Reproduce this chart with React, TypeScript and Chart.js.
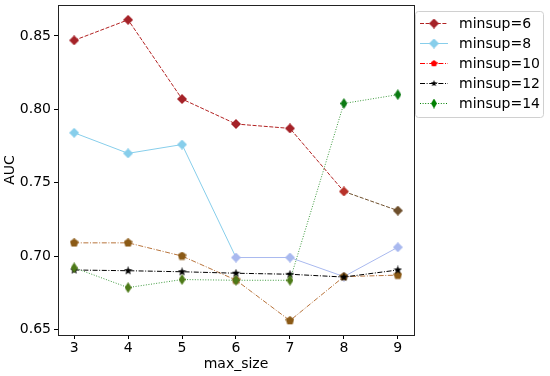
import { useEffect, useRef } from "react";
import { Chart, registerables } from "chart.js";
Chart.register(...registerables);

const xValues = [3, 4, 5, 6, 7, 8, 9];
const yTicks = [0.65, 0.7, 0.75, 0.8, 0.85];
const seriesNames = ["minsup=6", "minsup=8", "minsup=10", "minsup=12", "minsup=14"];
const minsup6 = [0.847, 0.861, 0.807, 0.790, 0.787, 0.744, 0.731];
const minsup8 = [0.784, 0.770, 0.776, 0.699, 0.699, 0.686, 0.706];
const minsup10 = [0.709, 0.709, 0.700, 0.6836, 0.656, 0.686, 0.687];
const minsup12 = [0.6905, 0.690, 0.6893, 0.6883, 0.6876, 0.6857, 0.6905];
const minsup14 = [0.692, 0.6785, 0.684, 0.6835, 0.6835, 0.804, 0.810];

const FONT = "'DejaVu Sans', sans-serif";

function makeMarker(shape: string, fill: string, w: number, h: number) {
  const c = document.createElement("canvas");
  c.width = w;
  c.height = h;
  const ctx = c.getContext("2d")!;
  ctx.fillStyle = fill;
  ctx.beginPath();
  const cx = w / 2, cy = h / 2;
  if (shape === "D" || shape === "d") {
    ctx.moveTo(cx, 0);
    ctx.lineTo(w, cy);
    ctx.lineTo(cx, h);
    ctx.lineTo(0, cy);
  } else if (shape === "star") {
    const R = w / 2, r = R * 0.42;
    for (let i = 0; i < 10; i++) {
      const a = -Math.PI / 2 + (i * Math.PI) / 5;
      const rr = i % 2 === 0 ? R : r;
      const px = cx + rr * Math.cos(a), py = cy + rr * Math.sin(a);
      if (i === 0) ctx.moveTo(px, py); else ctx.lineTo(px, py);
    }
  } else {
    const R = w / 2;
    for (let i = 0; i < 5; i++) {
      const a = -Math.PI / 2 + (i * 2 * Math.PI) / 5;
      const px = cx + R * Math.cos(a), py = cy + R * Math.sin(a);
      if (i === 0) ctx.moveTo(px, py); else ctx.lineTo(px, py);
    }
  }
  ctx.closePath();
  ctx.fill();
  return c;
}

export default function App() {
  const ref = useRef<HTMLCanvasElement | null>(null);
  useEffect(() => {
    if (!ref.current) return;
    const toXY = (arr: number[]) => arr.map((y, i) => ({ x: xValues[i], y }));

    const brown6 = "#6e4f2c";
    const lav = "#a9b9ef";
    const m6 = xValues.map((_, i) => makeMarker("D", i === 6 ? brown6 : i === 5 ? "#b8322a" : "#a52228", 10, 10));
    const m8 = xValues.map((_, i) => makeMarker("D", i < 3 ? "#87ceeb" : lav, 10, 10));
    const m10 = xValues.map(() => makeMarker("p", "#8b5a16", 9, 9));
    const m12 = xValues.map(() => makeMarker("star", "#000000", 9, 9));
    const m14 = xValues.map((_, i) => makeMarker("d", i < 5 ? "#4d7a18" : "#0b7a12", 7, 11));

    const legendItems = [
      { color: "#b22222", dash: [4, 1.6], marker: makeMarker("D", "#a52228", 10, 10) },
      { color: "#87ceeb", dash: [], marker: makeMarker("D", "#87ceeb", 10, 10) },
      { color: "#ff0000", dash: [5, 1.6, 1, 1.6], marker: makeMarker("p", "#ff0000", 7, 7) },
      { color: "#000000", dash: [5, 1.6, 1, 1.6], marker: makeMarker("star", "#000000", 7, 7) },
      { color: "#008000", dash: [1, 1.6], marker: makeMarker("d", "#008000", 6, 10) },
    ];

    const framePlugin = {
      id: "frameLegend",
      afterDatasetsDraw(chart: any) {
        const { ctx, chartArea: a } = chart;
        ctx.save();
        ctx.strokeStyle = "#222";
        ctx.lineWidth = 1;
        ctx.setLineDash([]);
        ctx.strokeRect(Math.round(a.left) + 0.5, Math.round(a.top) + 0.5, Math.round(a.right - a.left), Math.round(a.bottom - a.top));
        // legend
        const lx = 415, ly = 11, lw = 128, lh = 106;
        ctx.fillStyle = "rgba(255,255,255,0.85)";
        ctx.strokeStyle = "#d0d0d0";
        ctx.beginPath();
        (ctx as any).roundRect(lx + 0.5, ly + 0.5, lw, lh, 3);
        ctx.fill();
        ctx.stroke();
        ctx.font = `14px ${FONT}`;
        ctx.textBaseline = "middle";
        ctx.textAlign = "left";
        legendItems.forEach((it, i) => {
          const y = 23 + i * 20;
          ctx.strokeStyle = it.color;
          ctx.lineWidth = 1;
          ctx.setLineDash(it.dash);
          ctx.beginPath();
          ctx.moveTo(420, y + 0.5);
          ctx.lineTo(448, y + 0.5);
          ctx.stroke();
          ctx.setLineDash([]);
          ctx.drawImage(it.marker, 434 - it.marker.width / 2, y + 0.5 - it.marker.height / 2);
          ctx.fillStyle = "#000";
          ctx.fillText(seriesNames[i], 459, y + 1);
        });
        ctx.restore();
      },
    };

    const chart = new Chart(ref.current, {
      type: "line",
      data: {
        datasets: [
          {
            label: seriesNames[0],
            data: toXY(minsup6),
            borderColor: "#b22222",
            borderWidth: 1,
            borderDash: [4, 1.6],
            pointStyle: m6 as any,
            segment: { borderColor: (c: any) => (c.p0DataIndex >= 5 ? brown6 : "#b22222") },
            order: 5,
          },
          {
            label: seriesNames[1],
            data: toXY(minsup8),
            borderColor: "#87ceeb",
            borderWidth: 1,
            pointStyle: m8 as any,
            segment: { borderColor: (c: any) => (c.p0DataIndex >= 3 ? lav : "#87ceeb") },
            order: 4,
          },
          {
            label: seriesNames[2],
            data: toXY(minsup10),
            borderColor: "#b8743c",
            borderWidth: 1,
            borderDash: [5, 1.6, 1, 1.6],
            pointStyle: m10 as any,
            order: 3,
          },
          {
            label: seriesNames[3],
            data: toXY(minsup12),
            borderColor: "#000000",
            borderWidth: 1,
            borderDash: [5, 1.6, 1, 1.6],
            pointStyle: m12 as any,
            order: 2,
          },
          {
            label: seriesNames[4],
            data: toXY(minsup14),
            borderColor: "#3e9a3e",
            borderWidth: 1,
            borderDash: [1, 1.6],
            pointStyle: m14 as any,
            order: 1,
          },
        ],
      },
      options: {
        responsive: false,
        animation: false,
        devicePixelRatio: 1,
        layout: { padding: { left: 0, right: 136, top: 5, bottom: 0 } },
        plugins: { legend: { display: false }, tooltip: { enabled: false } },
        elements: { line: { tension: 0, fill: false }, point: { radius: 4 } },
        scales: {
          x: {
            type: "linear",
            min: 2.7,
            max: 9.3,
            afterBuildTicks: (s: any) => {
              s.ticks = xValues.map((v) => ({ value: v }));
            },
            afterFit: (s: any) => {
              s.height = 41;
              s.paddingLeft = 0;
              s.paddingRight = 0;
            },
            grid: { display: true, drawOnChartArea: false, tickLength: 4, tickColor: "#000", color: "#000" },
            border: { display: false },
            ticks: { color: "#000", font: { family: FONT, size: 14 }, padding: 1, maxRotation: 0, autoSkip: false },
            title: { display: true, text: "max_size", color: "#000", font: { family: FONT, size: 14 }, padding: { top: 0, bottom: 3 } },
          },
          y: {
            type: "linear",
            min: 0.6462,
            max: 0.8711,
            afterBuildTicks: (s: any) => {
              s.ticks = yTicks.map((v) => ({ value: v }));
            },
            afterFit: (s: any) => {
              s.width = 58;
              s.paddingTop = 0;
              s.paddingBottom = 0;
            },
            grid: { display: true, drawOnChartArea: false, tickLength: 4, tickColor: "#000", color: "#000" },
            border: { display: false },
            ticks: { color: "#000", font: { family: FONT, size: 14 }, padding: 3, callback: (v: any) => Number(v).toFixed(2) },
            title: { display: true, text: "AUC", color: "#000", font: { family: FONT, size: 14 }, padding: { top: 2, bottom: 0 } },
          },
        },
      },
      plugins: [framePlugin],
    });
    return () => chart.destroy();
  }, []);

  return (
    <div style={{ position: "fixed", left: 0, top: 0, width: 550, height: 376, background: "#fff" }}>
      <canvas ref={ref} width={550} height={376} style={{ display: "block" }} />
    </div>
  );
}
